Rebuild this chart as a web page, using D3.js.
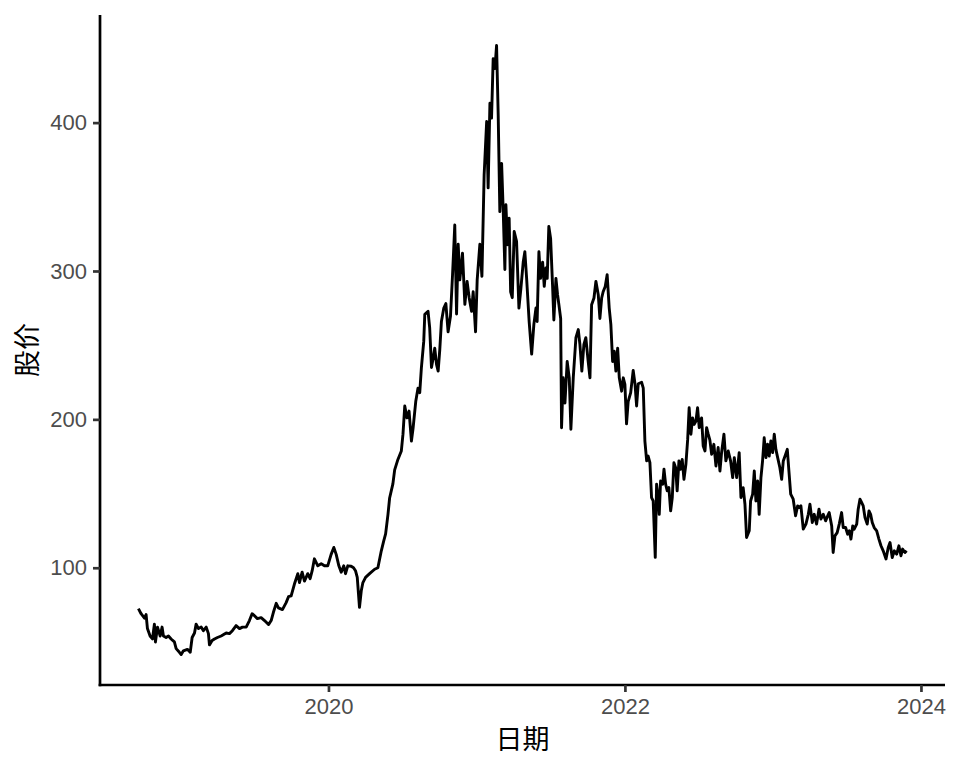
<!DOCTYPE html>
<html>
<head>
<meta charset="utf-8">
<script src="https://cdn.jsdelivr.net/npm/d3@7/dist/d3.min.js"></script>
<style>
  html, body { margin: 0; padding: 0; background: #ffffff; }
  svg { display: block; }
</style>
</head>
<body>
<svg id="chart" width="960" height="768"></svg>
<script>
// Dates as decimal years
const dates = [
  2018.716, 2018.734, 2018.757, 2018.768, 2018.777, 2018.795, 2018.811, 2018.824, 2018.831, 2018.845,
  2018.863, 2018.876, 2018.885, 2018.903, 2018.919, 2018.937, 2018.959, 2018.971, 2018.993, 2019.005,
  2019.020, 2019.047, 2019.066, 2019.079, 2019.095, 2019.106, 2019.122, 2019.140, 2019.155, 2019.174,
  2019.189, 2019.196, 2019.214, 2019.230, 2019.250, 2019.275, 2019.309, 2019.331, 2019.351, 2019.376,
  2019.399, 2019.419, 2019.444, 2019.466, 2019.484, 2019.500, 2019.520, 2019.545, 2019.568, 2019.595,
  2019.613, 2019.628, 2019.647, 2019.662, 2019.689, 2019.714, 2019.730, 2019.748, 2019.770, 2019.793,
  2019.804, 2019.822, 2019.838, 2019.860, 2019.876, 2019.890, 2019.905, 2019.928, 2019.951, 2019.973,
  2019.995, 2020.018, 2020.036, 2020.052, 2020.070, 2020.086, 2020.103, 2020.115, 2020.130, 2020.153,
  2020.169, 2020.182, 2020.194, 2020.209, 2020.221, 2020.232, 2020.250, 2020.277, 2020.311, 2020.333,
  2020.356, 2020.372, 2020.385, 2020.401, 2020.412, 2020.434, 2020.446, 2020.468, 2020.491, 2020.502,
  2020.514, 2020.529, 2020.543, 2020.559, 2020.570, 2020.588, 2020.603, 2020.615, 2020.626, 2020.642,
  2020.649, 2020.671, 2020.682, 2020.694, 2020.705, 2020.716, 2020.728, 2020.739, 2020.750, 2020.761,
  2020.777, 2020.791, 2020.806, 2020.822, 2020.836, 2020.851, 2020.863, 2020.874, 2020.885, 2020.903,
  2020.919, 2020.934, 2020.948, 2020.964, 2020.975, 2020.991, 2021.002, 2021.020, 2021.034, 2021.049,
  2021.066, 2021.076, 2021.088, 2021.099, 2021.110, 2021.122, 2021.133, 2021.144, 2021.155, 2021.167,
  2021.178, 2021.189, 2021.196, 2021.207, 2021.218, 2021.228, 2021.239, 2021.252, 2021.268, 2021.284,
  2021.297, 2021.313, 2021.324, 2021.336, 2021.353, 2021.370, 2021.385, 2021.399, 2021.407, 2021.419,
  2021.430, 2021.444, 2021.455, 2021.466, 2021.475, 2021.486, 2021.498, 2021.511, 2021.520, 2021.534,
  2021.545, 2021.554, 2021.566, 2021.572, 2021.583, 2021.595, 2021.610, 2021.624, 2021.635, 2021.651,
  2021.669, 2021.685, 2021.696, 2021.709, 2021.723, 2021.736, 2021.752, 2021.764, 2021.775, 2021.791,
  2021.804, 2021.820, 2021.831, 2021.843, 2021.853, 2021.867, 2021.880, 2021.894, 2021.905, 2021.917,
  2021.928, 2021.939, 2021.951, 2021.962, 2021.978, 2021.989, 2022.000, 2022.011, 2022.022, 2022.039,
  2022.056, 2022.068, 2022.079, 2022.090, 2022.113, 2022.124, 2022.135, 2022.147, 2022.157, 2022.169,
  2022.180, 2022.191, 2022.205, 2022.214, 2022.225, 2022.232, 2022.241, 2022.255, 2022.264, 2022.275,
  2022.286, 2022.297, 2022.309, 2022.320, 2022.331, 2022.343, 2022.353, 2022.365, 2022.376, 2022.387,
  2022.399, 2022.412, 2022.424, 2022.434, 2022.446, 2022.457, 2022.468, 2022.480, 2022.491, 2022.502,
  2022.518, 2022.529, 2022.541, 2022.552, 2022.563, 2022.574, 2022.586, 2022.601, 2022.615, 2022.630,
  2022.642, 2022.653, 2022.669, 2022.682, 2022.698, 2022.714, 2022.728, 2022.739, 2022.755, 2022.772,
  2022.784, 2022.799, 2022.811, 2022.822, 2022.840, 2022.849, 2022.863, 2022.874, 2022.885, 2022.897,
  2022.907, 2022.919, 2022.930, 2022.941, 2022.953, 2022.964, 2022.975, 2022.986, 2022.998, 2023.009,
  2023.020, 2023.032, 2023.047, 2023.059, 2023.070, 2023.086, 2023.097, 2023.108, 2023.120, 2023.137,
  2023.153, 2023.167, 2023.178, 2023.189, 2023.205, 2023.223, 2023.239, 2023.250, 2023.266, 2023.279,
  2023.295, 2023.311, 2023.324, 2023.340, 2023.356, 2023.370, 2023.380, 2023.397, 2023.407, 2023.419,
  2023.434, 2023.448, 2023.464, 2023.475, 2023.491, 2023.505, 2023.516, 2023.527, 2023.539, 2023.549,
  2023.566, 2023.576, 2023.588, 2023.599, 2023.610, 2023.622, 2023.637, 2023.649, 2023.660, 2023.671,
  2023.684, 2023.701, 2023.716, 2023.730, 2023.745, 2023.764, 2023.779, 2023.791, 2023.806, 2023.820,
  2023.836, 2023.851, 2023.865, 2023.876, 2023.892, 2023.903
];

// Stock price values
const prices = [
  72.4, 69, 66, 68.4, 59, 54, 52, 62, 50, 60,
  54, 60, 54, 53, 54, 52, 50, 45.5, 43, 41.5,
  44, 45, 43, 53, 56, 62, 59, 60, 57.6, 60,
  55.6, 48, 51, 52, 53, 54, 56, 55.6, 57.6, 61,
  59, 60, 60, 64.4, 69, 67.7, 65.7, 66.4, 64.4, 61.7,
  64.4, 70, 76, 73, 71.8, 76.5, 80.5, 81, 89, 96,
  90, 97, 91, 96, 92.6, 98, 106, 101.3, 102.7, 101.3,
  101.3, 109, 113.7, 109, 101.3, 97, 101.3, 96, 101.3, 101,
  100, 98, 93.5, 73.3, 84.5, 90, 93.5, 96, 99, 100,
  111.4, 118, 122.8, 136, 147, 156.5, 166, 173, 178.7, 190,
  209, 201, 205.6, 185.4, 194, 212, 221, 218, 234.7, 252.7,
  270.8, 272.8, 261.6, 235, 241, 248, 237, 232.5, 247, 266,
  275, 278, 259, 269.5, 297.5, 331, 271, 318, 294, 312,
  277.5, 293, 282, 272.8, 286, 259, 294, 318, 296.4, 365,
  400.7, 356, 413, 403, 443, 436.5, 452, 405, 340, 372.5,
  340, 301, 344.6, 317.7, 335.6, 286, 282, 326.6, 320, 275,
  288, 306, 313, 295, 266, 244, 264, 275, 266, 313,
  295, 306, 289.6, 302, 295, 330, 322, 290.8, 267, 295,
  284, 277.3, 268, 194.4, 228, 211, 239, 228, 193.3, 228,
  255, 260.5, 250.5, 232.5, 250.5, 255, 239, 228, 277.3, 281.8,
  293, 284, 268, 281.8, 286, 289.6, 297.5, 275, 264, 239,
  246, 232.5, 248, 228, 219, 228, 223.6, 197, 212, 218,
  233, 224, 209, 224, 225, 221, 185.4, 172, 175.3, 170.8,
  147.3, 145, 107, 156.3, 147.3, 136, 158.5, 156.3, 166.4, 156.3,
  151.8, 154, 138.3, 147.3, 170.8, 167.4, 151.8, 172, 166.4, 173,
  159.6, 169.7, 186.5, 207.8, 190, 201, 196.6, 198.9, 207.8, 194.4,
  201, 182, 178.7, 194.4, 190, 186, 176.5, 183.2, 168.6, 181,
  165.2, 177.6, 190, 172, 178.7, 172, 160.8, 174.2, 160.8, 177.6,
  147.3, 154, 142.8, 120.4, 124.9, 145, 149.6, 165.2, 145, 158.5,
  136, 160.8, 172, 187.6, 174.2, 183.2, 175.3, 185.4, 177.6, 190,
  179.8, 174.2, 167.4, 159.6, 172, 176.5, 179.8, 165.2, 149.6, 146.2,
  135, 141.7, 140.6, 141.7, 126, 129.4, 136, 142.8, 130.5, 136,
  129.4, 139.5, 132.8, 136, 131.6, 135, 137.2, 128.2, 110.3, 121.5,
  123.7, 129.4, 137.2, 127.1, 127.1, 122.6, 124.9, 119.3, 128.2, 126,
  129.4, 139.5, 146.2, 144, 141.7, 133.8, 129.4, 138.3, 136, 130.5,
  127.1, 124.9, 119.3, 114.8, 111.4, 105.9, 113.6, 117, 106.9, 111.4,
  109.2, 114.8, 108.1, 112.6, 110.3, 111.4
];

const yTicks = [100, 200, 300, 400];
const xTickYears = [2020, 2022, 2024];
const xTitle = "日期";
const yTitle = "股价";

function decToDate(d) {
  const y = Math.floor(d);
  const s = Date.UTC(y, 0, 1), e = Date.UTC(y + 1, 0, 1);
  return new Date(s + (d - y) * (e - s));
}

const data = dates.map((d, i) => ({ date: decToDate(d), value: prices[i] }));

const W = 960, H = 768;
const margin = { left: 100, right: 15, top: 15, bottom: 83 };
const x0 = margin.left, x1 = W - margin.right;
const y0 = H - margin.bottom, y1 = margin.top;

const xExt = d3.extent(data, d => d.date.getTime());
const xPad = (xExt[1] - xExt[0]) * 0.05;
const x = d3.scaleUtc()
  .domain([new Date(xExt[0] - xPad), new Date(xExt[1] + xPad)])
  .range([x0, x1]);

const yExt = d3.extent(data, d => d.value);
const yPad = (yExt[1] - yExt[0]) * 0.05;
const y = d3.scaleLinear()
  .domain([yExt[0] - yPad, yExt[1] + yPad])
  .range([y0, y1]);

const svg = d3.select("#chart");

// line
const line = d3.line().x(d => x(d.date)).y(d => y(d.value));
svg.append("path")
  .datum(data)
  .attr("d", line)
  .attr("fill", "none")
  .attr("stroke", "#000000")
  .attr("stroke-width", 2.9)
  .attr("stroke-linejoin", "round")
  .attr("stroke-linecap", "butt");

const tickFont = "'Liberation Sans', Arial, sans-serif";

// x axis
const xAxis = d3.axisBottom(x)
  .tickValues(xTickYears.map(yy => new Date(Date.UTC(yy, 0, 1))))
  .tickFormat(d3.utcFormat("%Y"))
  .tickSizeInner(7).tickSizeOuter(0).tickPadding(6);
const gx = svg.append("g").attr("transform", `translate(0,${y0})`).call(xAxis);
gx.select(".domain").attr("stroke", "#000").attr("stroke-width", 2.7)
  .attr("d", `M${x0 - 1.35},0H${x1}`);
gx.selectAll(".tick line").attr("stroke", "#333333").attr("stroke-width", 2.7);
gx.selectAll(".tick text").attr("fill", "#4D4D4D")
  .style("font-family", tickFont).style("font-size", "22px");

// y axis
const yAxis = d3.axisLeft(y)
  .tickValues(yTicks)
  .tickFormat(d3.format("d"))
  .tickSizeInner(7).tickSizeOuter(0).tickPadding(6);
const gy = svg.append("g").attr("transform", `translate(${x0},0)`).call(yAxis);
gy.select(".domain").attr("stroke", "#000").attr("stroke-width", 2.7)
  .attr("d", `M0,${y0 + 1.35}V${y1}`);
gy.selectAll(".tick line").attr("stroke", "#333333").attr("stroke-width", 2.7);
gy.selectAll(".tick text").attr("fill", "#4D4D4D")
  .style("font-family", tickFont).style("font-size", "22px");

const titleFont = "'Noto Sans CJK SC', 'Noto Sans', sans-serif";
svg.append("text")
  .attr("x", (x0 + x1) / 2).attr("y", 737)
  .attr("text-anchor", "middle").attr("dominant-baseline", "central")
  .style("font-family", titleFont).style("font-size", "27px").attr("fill", "#000")
  .text(xTitle);

svg.append("text")
  .attr("transform", `translate(25,${(y0 + y1) / 2}) rotate(-90)`)
  .attr("text-anchor", "middle").attr("dominant-baseline", "central")
  .style("font-family", titleFont).style("font-size", "27px").attr("fill", "#000")
  .text(yTitle);
</script>
</body>
</html>
